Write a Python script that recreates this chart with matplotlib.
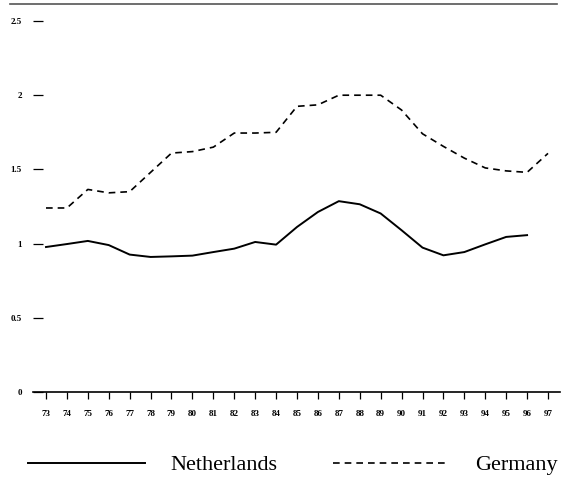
"""
Netherlands vs Germany, 1973-1997 index series (line chart recreation).
"""

import matplotlib
matplotlib.use('Agg')
from matplotlib import pyplot as plt
from matplotlib import lines

years = list(range(73, 98))
year_labels = [str(y) for y in years]

netherlands = [0.977, 0.997, 1.018, 0.99, 0.926, 0.91, 0.914, 0.919, 0.943, 0.966,
               1.011, 0.993, 1.112, 1.213, 1.286, 1.265, 1.203, 1.09, 0.973, 0.921,
               0.943, 0.995, 1.045, 1.057]
germany = [1.24, 1.24, 1.365, 1.342, 1.35, 1.48, 1.61, 1.62, 1.65, 1.745,
           1.745, 1.75, 1.925, 1.935, 2.0, 2.0, 2.0, 1.90, 1.74, 1.655,
           1.576, 1.51, 1.49, 1.48, 1.608]

y_ticks = [0, 0.5, 1, 1.5, 2, 2.5]
y_labels = ['0', '0.5', '1', '1.5', '2', '2.5']


def main():
    plt.rcParams['font.family'] = ['Liberation Serif', 'DejaVu Serif']

    fig = plt.figure(figsize=(5.66, 4.78), dpi=100)
    W, H = 566.0, 478.0
    ax = fig.add_axes([33 / W, (H - 392) / H, (560 - 33) / W, (392 - 21) / H])

    ax.plot(years[:len(netherlands)], netherlands, color='black', linewidth=1.4,
            solid_joinstyle='round', label='Netherlands')
    ax.plot(years, germany, color='black', linewidth=1.2, dashes=(4, 3),
            label='Germany')

    ax.set_xlim(73 - 13 / 20.917, 97 + 12 / 20.917)
    ax.set_ylim(0, 2.5)

    for side in ['top', 'right', 'left']:
        ax.spines[side].set_visible(False)
    ax.spines['bottom'].set_linewidth(1.2)

    ax.set_xticks(years)
    ax.set_xticklabels(year_labels, fontsize=6.5, fontweight='bold')
    ax.tick_params(axis='x', direction='out', length=5, width=0.9, pad=8)

    ax.set_yticks(y_ticks)
    ax.set_yticklabels(y_labels, fontsize=6.5, fontweight='bold')
    ax.tick_params(axis='y', direction='in', length=7, width=0.9, pad=8)

    # scan edge along the top
    fig.lines.append(lines.Line2D([10 / W, 557 / W], [(H - 4) / H, (H - 4) / H],
                                  transform=fig.transFigure, color='#555555',
                                  linewidth=1.2))

    fig.legend(loc='center left', bbox_to_anchor=(28 / W, (H - 465) / H),
               ncol=2, frameon=False, fontsize=16, handlelength=5.25,
               handletextpad=1.15, columnspacing=2.5, borderpad=0,
               borderaxespad=0)

    plt.savefig('out.png', dpi=100)


if __name__ == '__main__':
    main()
